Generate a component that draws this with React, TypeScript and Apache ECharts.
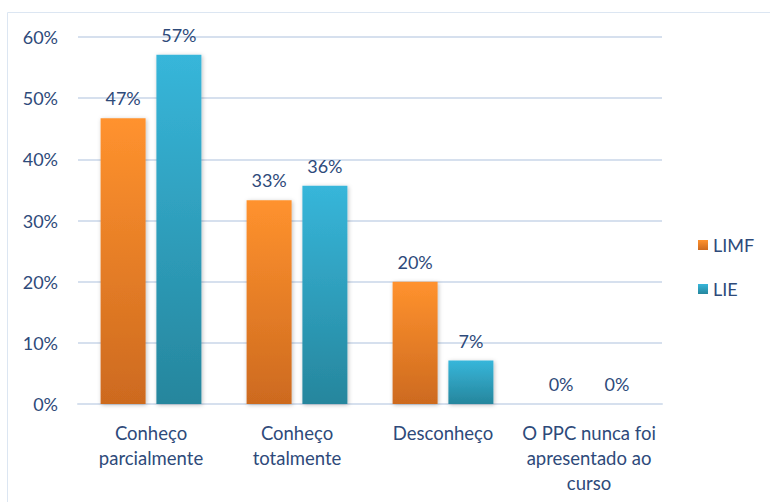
import React, { useEffect, useRef } from "react";
import * as echarts from "echarts";

const categories = [
  "Conheço\nparcialmente",
  "Conheço\ntotalmente",
  "Desconheço",
  "O PPC nunca foi\napresentado ao\ncurso",
];
const limfValues = [46.7, 33.3, 20.0, 0];
const lieValues = [57.1, 35.7, 7.1, 0];
const yTicks = [0, 10, 20, 30, 40, 50, 60];

const textColor = "#2E4A7A";
const font = "Lato, 'Open Sans', sans-serif";

export default function App() {
  const ref = useRef<HTMLDivElement>(null);
  useEffect(() => {
    if (!ref.current) return;
    const chart = echarts.init(ref.current, undefined, { renderer: "svg" });
    const grad = (top: string, bottom: string) =>
      new echarts.graphic.LinearGradient(0, 0, 0, 1, [
        { offset: 0, color: top },
        { offset: 1, color: bottom },
      ]);
    const label = {
      show: true,
      position: "top" as const,
      distance: 11,
      color: textColor,
      fontSize: 18,
      fontFamily: font,
      formatter: (p: any) => Math.round(p.value) + "%",
    };
    chart.setOption({
      animation: false,
      backgroundColor: "#ffffff",
      graphic: [
        {
          type: "rect",
          shape: { x: 7.5, y: 12.5, width: 780, height: 500 },
          style: { fill: "none", stroke: "#DCE6F2", lineWidth: 1 },
          silent: true,
        },
      ],
      grid: { left: 78, right: 108, top: 37, bottom: 98 },
      legend: {
        orient: "vertical",
        left: 693,
        top: 231,
        itemWidth: 10,
        itemHeight: 10,
        itemGap: 26,
        icon: "rect",
        textStyle: { color: textColor, fontSize: 18, fontFamily: font },
        data: ["LIMF", "LIE"],
      },
      xAxis: {
        type: "category",
        data: categories,
        axisLine: { lineStyle: { color: "#D6E0EE", width: 2 } },
        axisTick: { show: false },
        axisLabel: {
          color: textColor,
          fontSize: 18.5,
          fontFamily: font,
          lineHeight: 25,
          margin: 16,
          interval: 0,
          align: "center",
        },
      },
      yAxis: {
        type: "value",
        min: yTicks[0],
        max: yTicks[yTicks.length - 1],
        interval: 10,
        axisLine: { show: false },
        axisTick: { show: false },
        splitLine: { lineStyle: { color: "#D6E0EE", width: 2 } },
        axisLabel: {
          color: textColor,
          fontSize: 18,
          fontFamily: font,
          margin: 20,
          formatter: (v: number) => v + "%",
        },
      },
      series: [
        {
          name: "LIMF",
          type: "bar",
          data: limfValues,
          barWidth: 45,
          barGap: "24%",
          itemStyle: {
            color: grad("#FF922E", "#CD6A1F"),
            shadowBlur: 4,
            shadowColor: "rgba(0,0,0,0.25)",
            shadowOffsetX: 1,
            shadowOffsetY: 1,
          },
          label,
        },
        {
          name: "LIE",
          type: "bar",
          data: lieValues,
          barWidth: 45,
          itemStyle: {
            color: grad("#37B6DA", "#26869D"),
            shadowBlur: 4,
            shadowColor: "rgba(0,0,0,0.25)",
            shadowOffsetX: 1,
            shadowOffsetY: 1,
          },
          label,
        },
      ],
    });
    return () => chart.dispose();
  }, []);
  return (
    <div
      ref={ref}
      style={{ position: "fixed", left: 0, top: 0, width: 770, height: 502 }}
    />
  );
}
